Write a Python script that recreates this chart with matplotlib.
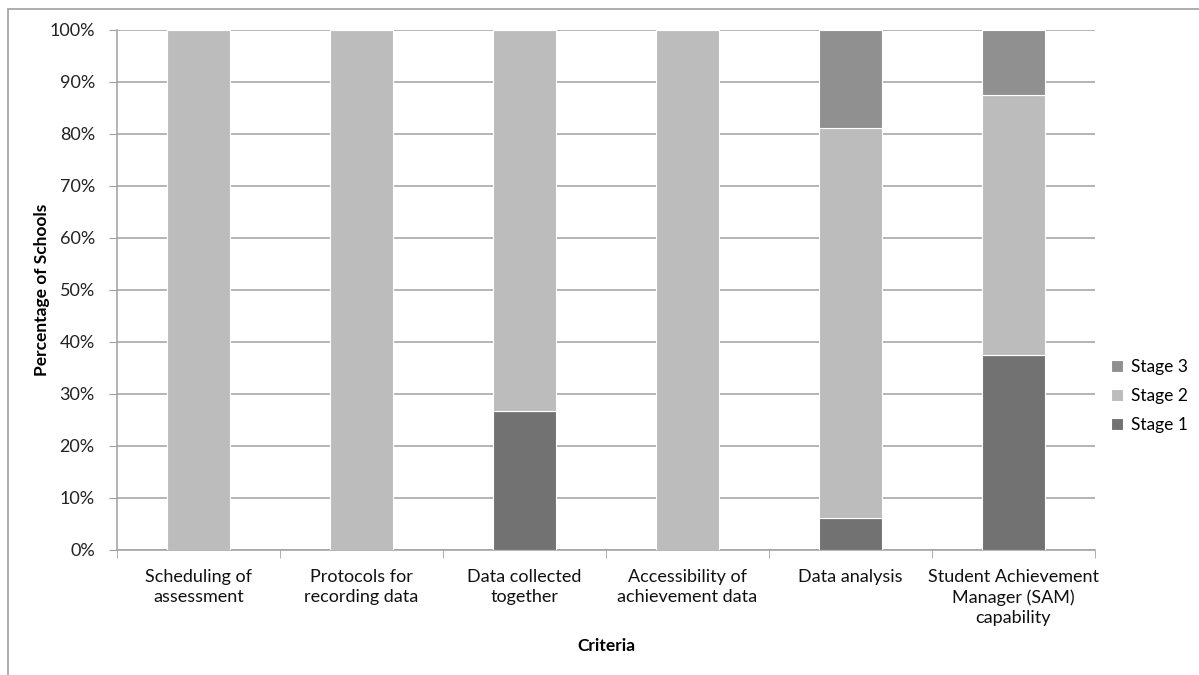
import numpy as np
import matplotlib
matplotlib.use("Agg")
import matplotlib.pyplot as plt
from matplotlib.patches import Rectangle

plt.rcParams['font.family'] = ['Lato', 'DejaVu Sans']

categories = ["Scheduling of\nassessment", "Protocols for\nrecording data",
              "Data collected\ntogether", "Accessibility of\nachievement data",
              "Data analysis", "Student Achievement\nManager (SAM)\ncapability"]
stage1 = [0, 0, 26.67, 0, 6.25, 37.5]
stage2 = [100, 100, 73.33, 100, 75.0, 50.0]
stage3 = [0, 0, 0, 0, 18.75, 12.5]

c1, c2, c3 = "#727272", "#bcbcbc", "#909090"

fig = plt.figure(figsize=(11.99, 6.75), dpi=100)
# outer chart frame
fig.patches.append(Rectangle((8 / 1199, -0.1), 1.2, 1 - 9 / 675 + 0.1,
                             transform=fig.transFigure, fill=False,
                             edgecolor="#a0a0a0", lw=1.2))
ax = fig.add_axes([117 / 1199, 1 - 550 / 675, (1095 - 117) / 1199, 520 / 675])

x = np.arange(len(categories))
w = 0.39
s1 = np.array(stage1)
s2 = np.array(stage2)
s3 = np.array(stage3)
b1 = ax.bar(x, s1, w, color=c1, edgecolor="white", lw=0.8, label="Stage 1", zorder=3)
b2 = ax.bar(x, s2, w, bottom=s1, color=c2, edgecolor="white", lw=0.8, label="Stage 2", zorder=3)
b3 = ax.bar(x, s3, w, bottom=s1 + s2, color=c3, edgecolor="white", lw=0.8, label="Stage 3", zorder=3)

ax.set_xlim(-0.5, len(categories) - 0.5)
ax.set_ylim(0, 100)
ax.set_yticks(np.arange(0, 101, 10))
ax.set_yticklabels([f"{v}%" for v in range(0, 101, 10)], fontsize=13, color="#222222")
ax.yaxis.grid(True, color="#a0a0a0", lw=1.1, zorder=0)
ax.set_axisbelow(True)

ax.set_xticks(x)
ax.set_xticklabels(categories, fontsize=13, color="#111111", linespacing=1.3)
ax.set_xticks(np.arange(-0.5, len(categories), 1), minor=True)
ax.tick_params(axis="x", which="major", length=0, pad=14)
ax.tick_params(axis="x", which="minor", length=6, color="#a0a0a0", direction="out")
ax.tick_params(axis="y", length=6, color="#a0a0a0", pad=10)

for s in ["top", "right"]:
    ax.spines[s].set_visible(False)
ax.spines["left"].set_color("#a0a0a0")
ax.spines["bottom"].set_color("#a0a0a0")
ax.spines["left"].set_linewidth(1.1)
ax.spines["bottom"].set_linewidth(1.1)

fig.text(42 / 1199, 1 - 290 / 675, "Percentage of Schools", rotation=90,
         ha="center", va="center", fontsize=12.5, fontweight="bold")
fig.text(606 / 1199, 1 - 646 / 675, "Criteria", ha="center", va="center",
         fontsize=12.5, fontweight="bold")

handles = [b3, b2, b1]
ax.legend(handles, ["Stage 3", "Stage 2", "Stage 1"], loc="center left",
          bbox_to_anchor=(1.0, 0.296), frameon=False, fontsize=12.5,
          handlelength=0.7, handleheight=0.7, handletextpad=0.5, labelspacing=0.75)

fig.savefig("out.png", dpi=100)
